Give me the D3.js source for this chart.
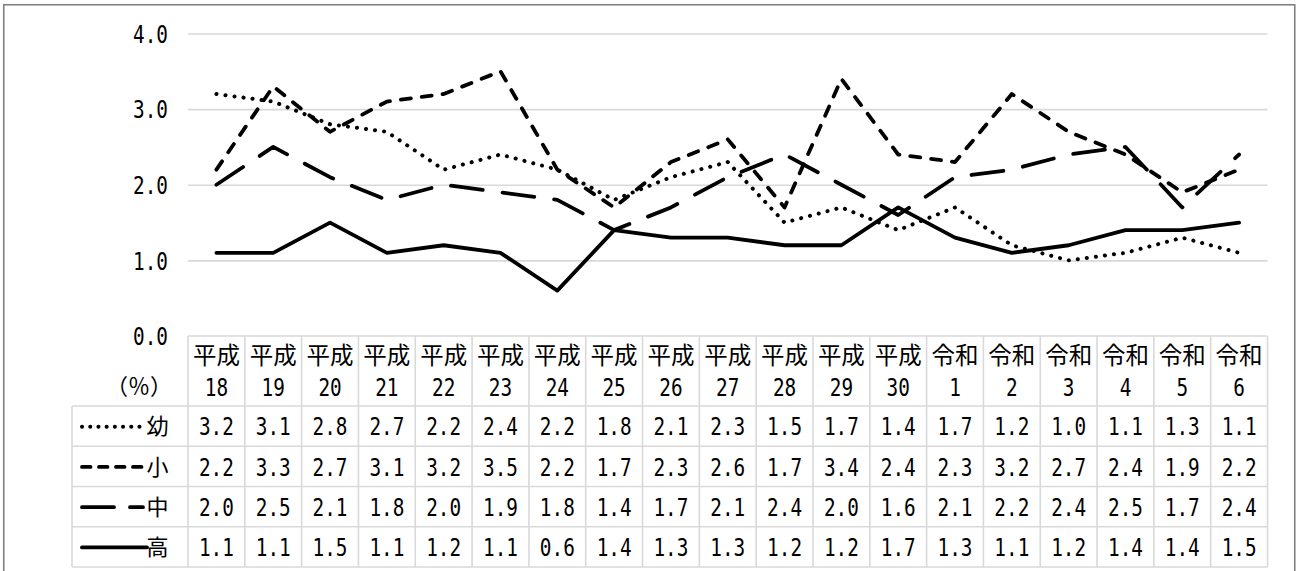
<!DOCTYPE html>
<html lang="ja">
<head>
<meta charset="utf-8">
<script src="https://cdn.jsdelivr.net/npm/d3@7"></script>
<style>
  html, body { margin: 0; padding: 0; background: #fff; }
  svg { display: block; }
</style>
</head>
<body>
<div id="chart"></div>
<script>
// 年度（ヘッダー2行: 元号 / 年）
const eras = ["平成","平成","平成","平成","平成","平成","平成","平成","平成","平成","平成","平成","平成","令和","令和","令和","令和","令和","令和"];
const years = ["18","19","20","21","22","23","24","25","26","27","28","29","30","1","2","3","4","5","6"];

// 学校種別
const seriesNames = ["幼", "小", "中", "高"];

// 各学校種の値（%）
const youchien = [3.2, 3.1, 2.8, 2.7, 2.2, 2.4, 2.2, 1.8, 2.1, 2.3, 1.5, 1.7, 1.4, 1.7, 1.2, 1.0, 1.1, 1.3, 1.1];
const shougakkou = [2.2, 3.3, 2.7, 3.1, 3.2, 3.5, 2.2, 1.7, 2.3, 2.6, 1.7, 3.4, 2.4, 2.3, 3.2, 2.7, 2.4, 1.9, 2.2];
const chuugakkou = [2.0, 2.5, 2.1, 1.8, 2.0, 1.9, 1.8, 1.4, 1.7, 2.1, 2.4, 2.0, 1.6, 2.1, 2.2, 2.4, 2.5, 1.7, 2.4];
const koukou = [1.1, 1.1, 1.5, 1.1, 1.2, 1.1, 0.6, 1.4, 1.3, 1.3, 1.2, 1.2, 1.7, 1.3, 1.1, 1.2, 1.4, 1.4, 1.5];

// 縦軸目盛
const yTicks = [0, 1, 2, 3, 4];
const unitLabel = "（％）";

const seriesValues = [youchien, shougakkou, chuugakkou, koukou];
const categories = years.map((y, i) => eras[i] + y);

// ---- レイアウト ----
const W = 1297, H = 571;
const plotLeft = 188, plotRight = 1267.5;
const plotTop = 33.5, plotBottom = 336;
const legendLeft = 72;
const headerBottom = 406;
const rowH = 40.25;

const numFont = "'DejaVu Sans Mono', 'Liberation Mono', monospace";
const cjkFont = "'Noto Sans CJK JP', 'Noto Sans', sans-serif";
const numSize = "24.5px";
const cjkSize = "23.5px";
const numScale = 0.79;
const gridColor = "#d9d9d9";

// 線種（点線・破線・長破線・実線）
const dashes = ["0.1,9", "10,11", "32,20", null];
const legendDashes = ["0.1,8.1", "8.5,8.5", "32,16", null];

const svg = d3.select("#chart").append("svg")
  .attr("width", W).attr("height", H);

svg.append("rect").attr("width", W).attr("height", H).attr("fill", "#fff");

// 外枠
svg.append("rect")
  .attr("x", 3.75).attr("y", 4.75)
  .attr("width", 1291).attr("height", 700)
  .attr("fill", "none").attr("stroke", "#808080").attr("stroke-width", 1.6);

const x = d3.scaleBand().domain(categories).range([plotLeft, plotRight]).padding(0);
const y = d3.scaleLinear().domain([0, 4]).range([plotBottom, plotTop]);
const cx = c => x(c) + x.bandwidth() / 2;

// 目盛線
const grid = svg.append("g")
  .attr("transform", `translate(${plotLeft},0)`)
  .call(d3.axisLeft(y).tickValues(yTicks.filter(v => v > 0))
    .tickSize(-(plotRight - plotLeft)).tickFormat(""));
grid.select(".domain").remove();
grid.selectAll(".tick line").attr("stroke", gridColor).attr("stroke-width", 1.6);

// 縦軸ラベル
const yAxis = svg.append("g")
  .attr("transform", `translate(${plotLeft},0)`)
  .call(d3.axisLeft(y).tickValues(yTicks).tickSize(0).tickPadding(20)
    .tickFormat(d3.format(".1f")));
yAxis.select(".domain").remove();
yAxis.selectAll(".tick text")
  .attr("x", null)
  .attr("dy", "0.36em")
  .attr("transform", `translate(-20,0) scale(${numScale},1)`)
  .attr("text-anchor", "end")
  .style("font-family", numFont)
  .style("font-size", numSize)
  .attr("fill", "#000");

// 単位
svg.append("text")
  .attr("x", 139).attr("y", 386).attr("dy", "0.35em")
  .attr("text-anchor", "middle")
  .style("font-family", cjkFont).style("font-size", "22px")
  .attr("fill", "#000")
  .text(unitLabel);

// 折れ線
const line = d3.line()
  .x((d, i) => cx(categories[i]))
  .y(d => y(d));

seriesValues.forEach((vals, k) => {
  svg.append("path")
    .datum(vals)
    .attr("d", line)
    .attr("fill", "none")
    .attr("stroke", "#000")
    .attr("stroke-width", k === 0 ? 4 : 3.8)
    .attr("stroke-linecap", "round")
    .attr("stroke-linejoin", "round")
    .attr("stroke-dasharray", dashes[k]);
});

// ---- データテーブル ----
const table = svg.append("g");
const rowTops = seriesNames.map((_, k) => headerBottom + k * rowH);
const tableBottom = headerBottom + seriesNames.length * rowH;

const hLine = (x1, x2, yy) => table.append("line")
  .attr("x1", x1).attr("x2", x2).attr("y1", yy).attr("y2", yy)
  .attr("stroke", gridColor).attr("stroke-width", 1.6);
const vLine = (xx, y1, y2) => table.append("line")
  .attr("x1", xx).attr("x2", xx).attr("y1", y1).attr("y2", y2)
  .attr("stroke", gridColor).attr("stroke-width", 1.6);

hLine(plotLeft, plotRight, plotBottom);
hLine(legendLeft, plotRight, headerBottom);
rowTops.forEach((t, k) => hLine(legendLeft, plotRight, t + rowH));
vLine(legendLeft, headerBottom, tableBottom);
categories.forEach(c => vLine(x(c), plotBottom, tableBottom));
vLine(plotRight, plotBottom, tableBottom);

// ヘッダー
categories.forEach((c, i) => {
  table.append("text")
    .attr("x", cx(c)).attr("y", 356).attr("dy", "0.35em")
    .attr("text-anchor", "middle")
    .style("font-family", cjkFont).style("font-size", cjkSize)
    .attr("fill", "#000")
    .text(eras[i]);
  table.append("text")
    .attr("transform", `translate(${cx(c)},387) scale(${numScale},1)`)
    .attr("dy", "0.36em")
    .attr("text-anchor", "middle")
    .style("font-family", numFont).style("font-size", numSize)
    .attr("fill", "#000")
    .text(years[i]);
});

// 行（凡例 + 値）
const fmt = d3.format(".1f");
seriesNames.forEach((name, k) => {
  const mid = rowTops[k] + rowH / 2 + 0.5;
  table.append("line")
    .attr("x1", 82).attr("x2", k === 3 ? 147 : 143)
    .attr("y1", mid).attr("y2", mid)
    .attr("stroke", "#000").attr("stroke-width", k === 0 ? 4 : 3.8)
    .attr("stroke-linecap", "round")
    .attr("stroke-dasharray", legendDashes[k]);
  table.append("text")
    .attr("x", 157.5).attr("y", mid).attr("dy", "0.35em")
    .attr("text-anchor", "middle")
    .style("font-family", cjkFont).style("font-size", "22px")
    .attr("fill", "#000")
    .text(name);
  seriesValues[k].forEach((v, i) => {
    table.append("text")
      .attr("transform", `translate(${cx(categories[i])},${mid}) scale(${numScale},1)`)
      .attr("dy", "0.36em")
      .attr("text-anchor", "middle")
      .style("font-family", numFont).style("font-size", numSize)
      .attr("fill", "#000")
      .text(fmt(v));
  });
});
</script>
</body>
</html>
